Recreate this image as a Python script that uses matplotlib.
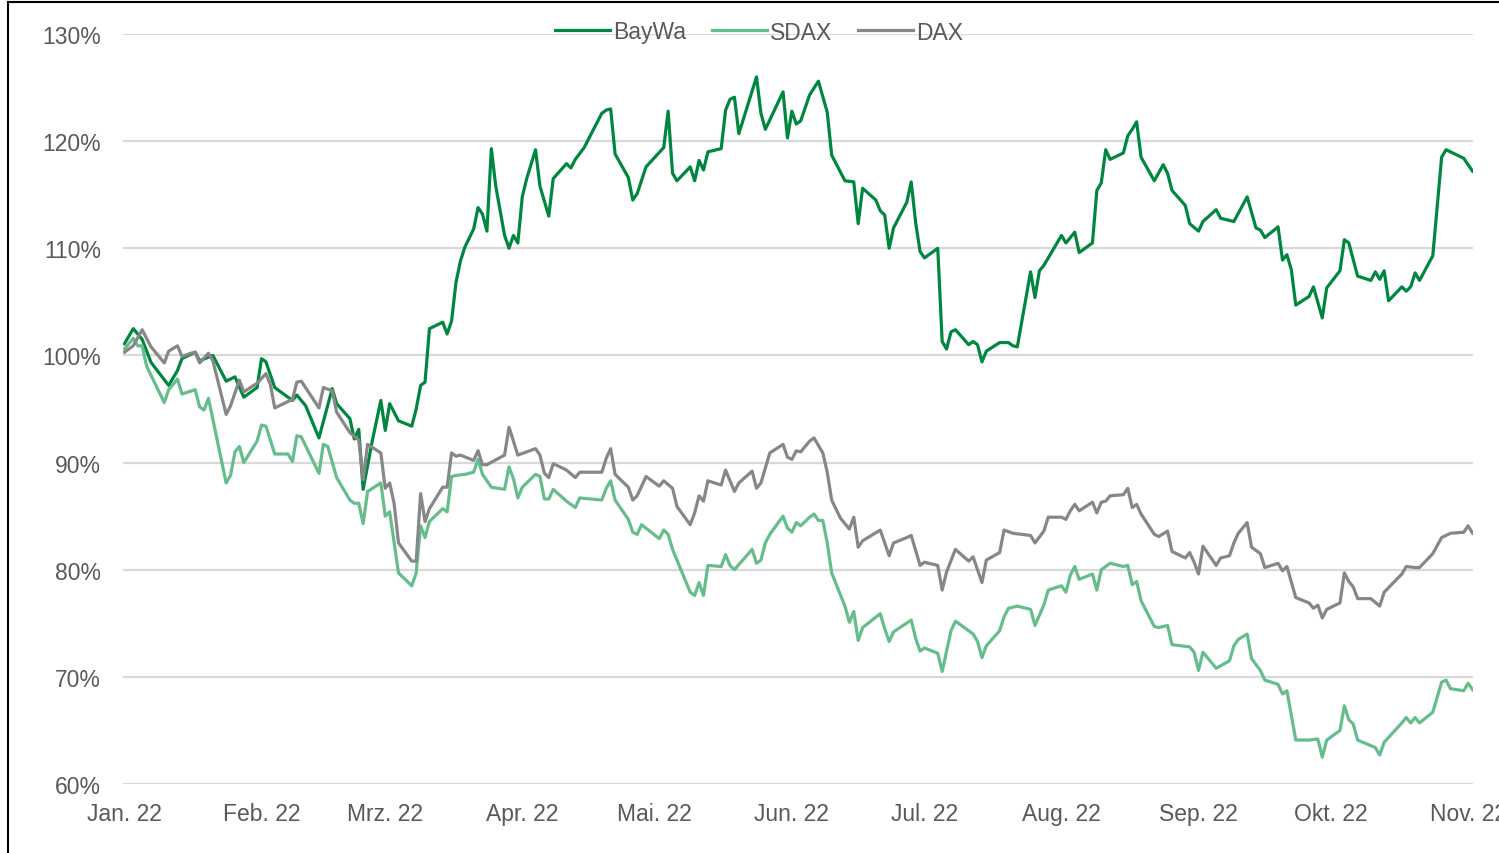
import matplotlib
matplotlib.use("Agg")
import matplotlib.pyplot as plt
from matplotlib.lines import Line2D
from matplotlib.ticker import FuncFormatter
import pandas as pd

# days since 1 Jan 2022, values in % of start level
bay_days = [0, 2, 4, 6, 10, 12, 13, 16, 17, 20, 23, 25, 27, 30, 31, 32, 34, 38, 39, 41,
            44, 47, 48, 51, 52, 53, 54, 56, 58, 59, 60, 62, 65, 66, 67, 68, 69, 72, 73, 74,
            75, 76, 77, 79, 80, 81, 82, 83, 84, 86, 87, 88, 89, 90, 91, 93, 94, 96, 97, 100,
            101, 102, 104, 108, 109, 110, 111, 114, 115, 116, 118, 122, 123, 124, 125, 128, 129, 130, 131, 132,
            135, 136, 137, 138, 139, 143, 144, 145, 149, 150, 151, 152, 153, 155, 157, 159, 160, 163, 165, 166,
            167, 170, 171, 172, 173, 174, 177, 178, 179, 180, 181, 184, 185, 186, 187, 188, 191, 192, 193, 194,
            195, 198, 200, 201, 202, 205, 206, 207, 208, 212, 213, 215, 216, 219, 220, 221, 222, 223, 226, 227,
            228, 229, 230, 233, 235, 236, 237, 240, 241, 243, 244, 247, 248, 251, 254, 256, 257, 258, 261, 262,
            263, 264, 265, 268, 269, 271, 272, 275, 276, 277, 279, 282, 283, 284, 285, 286, 289, 290, 291, 292,
            293, 296, 298, 299, 300, 303, 304, 305]
bay_vals = [101.1, 102.5, 101.5, 99.35, 97.2, 98.6, 99.7, 100.3, 99.5, 100.0, 97.6, 98.0, 96.1, 97.0, 99.7, 99.4, 97.0, 95.8, 96.3, 95.3,
            92.3, 96.9, 95.5, 94.1, 92.2, 93.1, 87.5, 91.9, 95.8, 93.0, 95.5, 93.9, 93.4, 95.0, 97.2, 97.5, 102.5, 103.1, 102.0, 103.2,
            106.8, 108.8, 110.1, 111.8, 113.8, 113.2, 111.6, 119.3, 115.8, 111.2, 110.0, 111.2, 110.5, 114.8, 116.5, 119.2, 115.8, 113.0, 116.5, 117.9,
            117.5, 118.3, 119.4, 122.6, 122.9, 123.0, 118.8, 116.6, 114.5, 115.1, 117.6, 119.4, 122.8, 117.0, 116.3, 117.6, 116.3, 118.2, 117.3, 119.0,
            119.3, 122.9, 123.9, 124.1, 120.7, 126.0, 122.6, 121.1, 124.6, 120.3, 122.8, 121.6, 121.9, 124.3, 125.6, 122.7, 118.7, 116.3, 116.2, 112.3,
            115.6, 114.5, 113.5, 113.1, 110.0, 111.9, 114.3, 116.2, 112.4, 109.7, 109.1, 110.0, 101.3, 100.6, 102.2, 102.4, 101.0, 101.3, 101.0, 99.4,
            100.4, 101.2, 101.2, 100.9, 100.8, 107.8, 105.4, 107.9, 108.4, 111.2, 110.5, 111.5, 109.6, 110.5, 115.4, 116.1, 119.2, 118.3, 118.9, 120.5,
            121.1, 121.8, 118.5, 116.3, 117.8, 117.0, 115.4, 114.0, 112.3, 111.6, 112.5, 113.6, 112.8, 112.5, 114.8, 111.9, 111.7, 111.0, 112.0, 108.9,
            109.4, 108.0, 104.7, 105.5, 106.4, 103.5, 106.3, 107.9, 110.8, 110.5, 107.4, 107.0, 107.8, 107.1, 107.9, 105.1, 106.4, 106.0, 106.4, 107.7,
            107.0, 109.3, 118.5, 119.2, 119.0, 118.4, 117.8, 117.2]

sdax_days = [0, 2, 3, 4, 5, 9, 10, 12, 13, 16, 17, 18, 19, 23, 24, 25, 26, 27, 30, 31,
             32, 34, 37, 38, 39, 40, 44, 45, 46, 48, 51, 52, 53, 54, 55, 58, 59, 60, 62, 65,
             66, 67, 68, 69, 72, 73, 74, 75, 77, 79, 80, 81, 83, 86, 87, 88, 89, 90, 93, 94,
             95, 96, 97, 100, 102, 103, 108, 109, 110, 111, 114, 115, 116, 117, 121, 122, 123, 124, 125, 128,
             129, 130, 131, 132, 135, 136, 137, 138, 142, 143, 144, 145, 146, 149, 150, 151, 152, 153, 155, 156,
             157, 158, 159, 160, 163, 164, 165, 166, 167, 171, 172, 173, 174, 178, 179, 180, 181, 184, 185, 187,
             188, 191, 192, 193, 194, 195, 198, 199, 200, 202, 205, 206, 208, 209, 212, 213, 214, 215, 216, 219,
             220, 221, 223, 226, 227, 228, 229, 230, 233, 234, 236, 237, 241, 242, 243, 244, 247, 250, 251, 252,
             254, 255, 257, 258, 261, 262, 263, 265, 268, 270, 271, 272, 275, 276, 277, 278, 279, 283, 284, 285,
             289, 290, 291, 292, 293, 296, 298, 299, 300, 303, 304, 305]
sdax_vals = [100.6, 101.6, 100.9, 100.9, 99.0, 95.6, 96.8, 97.8, 96.4, 96.8, 95.2, 94.9, 96.0, 88.1, 88.8, 91.0, 91.5, 90.0, 92.0, 93.5,
             93.4, 90.8, 90.8, 90.1, 92.5, 92.4, 89.0, 91.7, 91.5, 88.6, 86.5, 86.2, 86.2, 84.3, 87.3, 88.1, 85.0, 85.4, 79.7, 78.5,
             79.7, 84.1, 83.0, 84.5, 85.7, 85.4, 88.7, 88.8, 88.9, 89.1, 90.3, 88.9, 87.7, 87.5, 89.6, 88.5, 86.7, 87.7, 88.9, 88.7,
             86.6, 86.6, 87.5, 86.4, 85.8, 86.7, 86.5, 87.6, 88.3, 86.5, 84.7, 83.5, 83.3, 84.2, 82.9, 83.7, 83.3, 81.9, 80.9, 77.9,
             77.6, 78.8, 77.6, 80.4, 80.3, 81.4, 80.4, 80.0, 81.9, 80.6, 80.9, 82.5, 83.3, 85.0, 83.9, 83.5, 84.4, 84.1, 84.9, 85.2,
             84.6, 84.6, 82.5, 79.7, 76.6, 75.1, 76.1, 73.4, 74.6, 75.9, 74.5, 73.3, 74.2, 75.3, 73.6, 72.4, 72.7, 72.2, 70.5, 74.3,
             75.2, 74.3, 74.0, 73.3, 71.8, 72.9, 74.3, 75.6, 76.4, 76.6, 76.3, 74.8, 76.7, 78.1, 78.5, 77.9, 79.5, 80.3, 79.1, 79.6,
             78.1, 80.0, 80.6, 80.3, 80.4, 78.6, 78.9, 77.1, 74.7, 74.6, 74.8, 73.0, 72.8, 72.3, 70.6, 72.3, 70.8, 71.5, 72.9, 73.5,
             74.0, 71.7, 70.6, 69.7, 69.3, 68.4, 68.7, 64.1, 64.1, 64.2, 62.5, 64.1, 65.0, 67.3, 66.0, 65.6, 64.1, 63.4, 62.7, 63.9,
             65.7, 66.2, 65.7, 66.2, 65.7, 66.7, 69.5, 69.7, 68.9, 68.7, 69.4, 68.8]

dax_days = [0, 2, 4, 6, 9, 10, 12, 13, 15, 16, 17, 19, 20, 23, 24, 26, 27, 30, 32, 33,
            34, 38, 39, 40, 44, 45, 47, 48, 51, 53, 54, 55, 58, 59, 60, 61, 62, 65, 66, 67,
            68, 69, 72, 73, 74, 75, 76, 79, 80, 81, 82, 86, 87, 89, 93, 94, 95, 96, 97, 100,
            102, 103, 108, 109, 110, 111, 114, 115, 116, 118, 121, 122, 124, 125, 128, 129, 130, 131, 132, 135,
            136, 138, 139, 142, 143, 144, 146, 149, 150, 151, 152, 153, 155, 156, 158, 159, 160, 162, 164, 165,
            166, 167, 171, 172, 173, 174, 177, 178, 180, 181, 184, 185, 186, 188, 191, 192, 193, 194, 195, 198,
            199, 201, 203, 205, 206, 208, 209, 212, 213, 214, 215, 216, 219, 220, 221, 222, 223, 226, 227, 228,
            229, 230, 233, 234, 236, 237, 240, 241, 242, 243, 244, 247, 248, 250, 251, 252, 254, 255, 257, 258,
            261, 262, 263, 265, 268, 269, 270, 271, 272, 275, 276, 277, 278, 279, 282, 284, 285, 289, 290, 292,
            293, 296, 298, 300, 303, 304, 305]
dax_vals = [100.3, 100.9, 102.4, 100.8, 99.3, 100.4, 100.9, 99.9, 100.2, 100.3, 99.3, 100.2, 99.5, 94.5, 95.3, 97.7, 96.6, 97.4, 98.3, 97.3,
            95.1, 95.9, 97.5, 97.6, 95.1, 97.0, 96.7, 94.7, 92.8, 92.1, 88.4, 91.7, 90.9, 87.6, 88.1, 86.2, 82.5, 80.8, 80.8, 87.1,
            84.5, 85.7, 87.7, 87.7, 90.9, 90.6, 90.7, 90.2, 91.1, 89.8, 89.8, 90.7, 93.3, 90.7, 91.3, 90.7, 89.0, 88.6, 89.9, 89.3,
            88.6, 89.1, 89.1, 90.4, 91.3, 88.9, 87.7, 86.5, 86.9, 88.7, 87.8, 88.3, 87.6, 85.9, 84.2, 85.3, 86.9, 86.4, 88.3, 87.9,
            89.3, 87.3, 88.1, 89.2, 87.6, 88.1, 90.9, 91.7, 90.5, 90.3, 91.1, 91.0, 92.0, 92.3, 90.9, 89.1, 86.5, 84.8, 83.8, 84.9,
            82.1, 82.7, 83.7, 82.5, 81.3, 82.5, 83.0, 83.2, 80.4, 80.7, 80.4, 78.1, 79.8, 81.9, 80.8, 81.2, 80.0, 78.8, 80.9, 81.6,
            83.7, 83.4, 83.3, 83.2, 82.5, 83.6, 84.9, 84.9, 84.7, 85.5, 86.1, 85.5, 86.3, 85.3, 86.3, 86.4, 86.9, 87.0, 87.6, 85.8,
            86.1, 85.2, 83.3, 83.1, 83.6, 81.7, 81.1, 81.6, 80.7, 79.6, 82.2, 80.4, 81.1, 81.3, 82.5, 83.4, 84.4, 82.1, 81.5, 80.2,
            80.6, 79.9, 80.3, 77.4, 76.9, 76.4, 76.7, 75.5, 76.3, 76.9, 79.7, 78.9, 78.4, 77.3, 77.3, 76.6, 77.9, 79.6, 80.3, 80.2,
            80.2, 81.5, 83.0, 83.4, 83.5, 84.1, 83.4]

month_labels = ['Jan. 22', 'Feb. 22', 'Mrz. 22', 'Apr. 22', 'Mai. 22', 'Jun. 22',
                'Jul. 22', 'Aug. 22', 'Sep. 22', 'Okt. 22', 'Nov. 22']
y_ticks = [60, 70, 80, 90, 100, 110, 120, 130]

start = pd.Timestamp('2022-01-01')


def to_dates(days):
    return start + pd.to_timedelta(days, unit='D')


plt.rcParams['font.family'] = ['Liberation Sans', 'DejaVu Sans']

fig = plt.figure(figsize=(14.99, 8.54), dpi=100)
ax = fig.add_axes([123 / 1499, 1 - 785 / 854, 1350 / 1499, 750 / 854])

ax.plot(to_dates(bay_days), bay_vals, color='#00873f', lw=2.3, label='BayWa')
ax.plot(to_dates(sdax_days), sdax_vals, color='#66bd8c', lw=2.3, label='SDAX')
ax.plot(to_dates(dax_days), dax_vals, color='#878787', lw=2.3, label='DAX')

ax.set_ylim(60, 130)
ax.set_yticks(y_ticks)
ax.yaxis.set_major_formatter(FuncFormatter(lambda v, p: f'{v:.0f}%'))
ax.set_xlim(start - pd.Timedelta(hours=8), start + pd.Timedelta(days=305.1))
ax.set_xticks(pd.date_range('2022-01-01', periods=11, freq='MS'))
ax.set_xticklabels(month_labels)

ax.grid(axis='y', color='#d9d9d9', lw=1.6)
ax.set_axisbelow(True)
for s in ax.spines.values():
    s.set_visible(False)
ax.tick_params(length=0, labelsize=16.5, colors='#595959')
ax.tick_params(axis='y', pad=16)
ax.tick_params(axis='x', pad=13)

ax.legend(loc='center', bbox_to_anchor=(759 / 1499, 1 - 33 / 854),
          bbox_transform=fig.transFigure, ncol=3, frameon=False, fontsize=16.5,
          handlelength=2.4, handletextpad=0.15, columnspacing=1.1,
          labelcolor='#595959')

# outer frame of the original chart (top and left edge visible)
fig.add_artist(Line2D([8 / 1499, 8 / 1499], [0, 1 - 3 / 854], color='black', lw=1.5,
                      transform=fig.transFigure))
fig.add_artist(Line2D([8 / 1499, 1], [1 - 3 / 854, 1 - 3 / 854], color='black', lw=1.5,
                      transform=fig.transFigure))

fig.savefig('out.png', dpi=100)
